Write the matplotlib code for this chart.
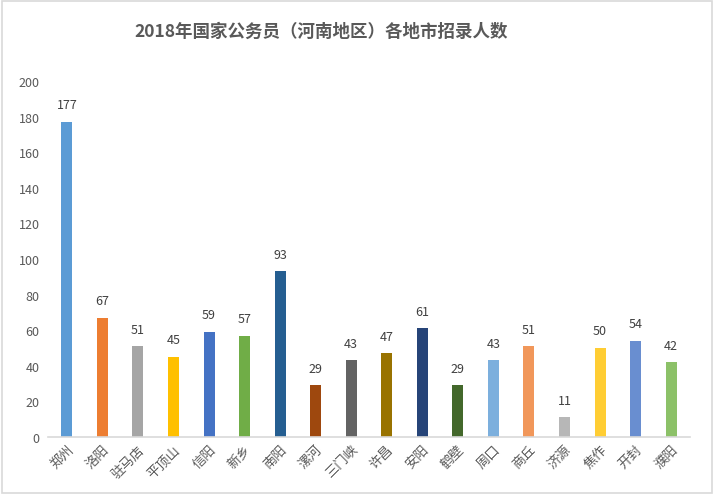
import matplotlib
matplotlib.use("Agg")
import matplotlib.pyplot as plt
from matplotlib.patches import Rectangle
import numpy as np

plt.rcParams['font.family'] = ['Noto Sans CJK SC', 'DejaVu Sans']

# data
cities = ['郑州', '洛阳', '驻马店', '平顶山', '信阳', '新乡', '南阳', '漯河', '三门峡',
          '许昌', '安阳', '鹤壁', '周口', '商丘', '济源', '焦作', '开封', '濮阳']
counts = [177, 67, 51, 45, 59, 57, 93, 29, 43, 47, 61, 29, 43, 51, 11, 50, 54, 42]
colors = ['#5B9BD5', '#ED7D31', '#A5A5A5', '#FFC000', '#4472C4', '#70AD47',
          '#255E91', '#9E480E', '#636363', '#997300', '#264478', '#43682B',
          '#7CAFDD', '#F1975A', '#B7B7B7', '#FFCD33', '#698ED0', '#8CC168']
title = '2018年国家公务员（河南地区）各地市招录人数'

W, H = 718, 502
fig = plt.figure(figsize=(W / 100, H / 100), dpi=100)
ax = fig.add_axes([48 / W, (H - 438) / H, (690 - 48) / W, (438 - 82) / H])

x = np.arange(len(cities))
ax.bar(x, counts, width=0.31, color=colors)
for xi, v in zip(x, counts):
    ax.text(xi, v + 6, str(v), ha='center', va='bottom', fontsize=9, color='#404040')

ax.set_xlim(-0.53, len(cities) - 0.47)
ax.set_ylim(0, 200)
ax.set_yticks(range(0, 201, 20))
ax.tick_params(axis='y', length=0, labelsize=9, labelcolor='#595959', pad=6)
ax.tick_params(axis='x', length=0, labelsize=9.5, labelcolor='#595959', pad=4)
ax.set_xticks(x)
ax.set_xticklabels(cities, rotation=45, ha='right', rotation_mode='anchor')
for s in ['top', 'right', 'left']:
    ax.spines[s].set_visible(False)
ax.spines['bottom'].set_color('#D9D9D9')
ax.spines['bottom'].set_linewidth(1.2)

fig.text(321 / W, 1 - 32 / H, title, ha='center', va='center', fontsize=12.6,
         fontweight='bold', color='#595959')

# chart border
fig.patches.append(Rectangle((1.5 / W, 1 - 494 / H), 710 / W, 492 / H,
                             transform=fig.transFigure, fill=False,
                             edgecolor='#D9D9D9', linewidth=1.2))

fig.savefig('out.png', dpi=100)
